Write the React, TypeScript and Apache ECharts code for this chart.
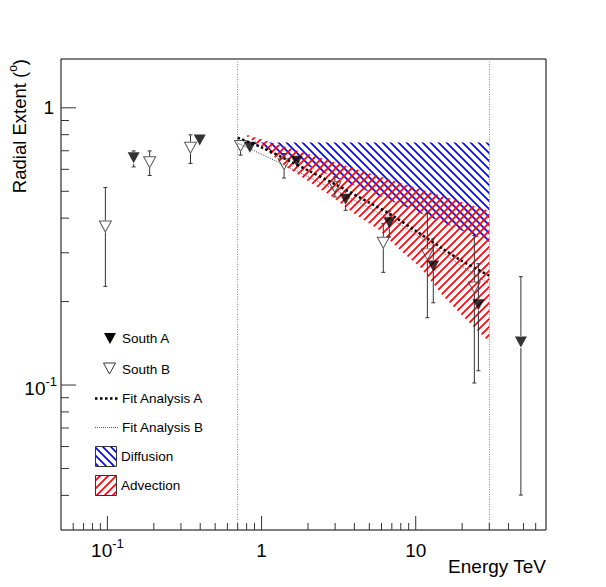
import React, { useEffect, useRef } from 'react';
import * as echarts from 'echarts';

// Axis ranges
const xRange = [0.05, 70];
const yRange = [0.03, 1.5];

// South A (filled down-triangles)
const southA_E = [0.148, 0.397, 0.84, 1.69, 3.51, 6.74, 13.0, 25.5, 48.1];
const southA_R = [0.66, 0.766, 0.721, 0.641, 0.468, 0.385, 0.269, 0.195, 0.143];
const southA_lo = [0.612, 0.75, 0.7, 0.62, 0.427, 0.342, 0.198, 0.1126, 0.0401];
const southA_hi = [0.699, 0.78, 0.74, 0.66, 0.501, 0.424, 0.337, 0.274, 0.246];

// South B (open down-triangles)
const southB_E = [0.097, 0.188, 0.346, 0.731, 1.4, 2.99, 6.16, 11.9, 24.0];
const southB_R = [0.373, 0.636, 0.718, 0.728, 0.626, 0.517, 0.326, 0.296, 0.225];
const southB_lo = [0.227, 0.57, 0.63, 0.675, 0.558, 0.477, 0.255, 0.175, 0.1017];
const southB_hi = [0.516, 0.699, 0.799, 0.74, 0.684, 0.563, 0.382, 0.417, 0.346];

// Fit curves
const fit_E = [0.7, 1, 1.5, 2, 3, 5, 7, 10, 15, 20, 30];
const fitA_R = [0.78, 0.72, 0.645, 0.595, 0.53, 0.455, 0.41, 0.36, 0.31, 0.28, 0.248];
const fitB_R = [0.745, 0.68, 0.61, 0.565, 0.505, 0.435, 0.395, 0.35, 0.3, 0.268, 0.232];

// Diffusion band (blue hatch)
const diff_upper_E = [0.86, 30];
const diff_upper_R = [0.75, 0.75];
const diff_lower_E = [0.86, 30];
const diff_lower_R = [0.75, 0.328];

// Advection band (red hatch)
const adv_upper_E = [0.8, 30];
const adv_upper_R = [0.8, 0.425];
const adv_lower_E = [0.8, 1.0, 1.45, 2, 2.78, 4, 5.86, 8, 10.7, 15, 20, 30];
const adv_lower_R = [0.79, 0.725, 0.612, 0.545, 0.484, 0.415, 0.361, 0.305, 0.266, 0.21, 0.178, 0.143];

// Energy thresholds (dotted vertical lines)
const thresholds = [0.7, 30];

// Tick values
const xMajorTicks = [0.1, 1, 10];
const xMinorTicks = [0.06, 0.07, 0.08, 0.09, 0.2, 0.3, 0.4, 0.5, 0.6, 0.7, 0.8, 0.9, 2, 3, 4, 5, 6, 7, 8, 9, 20, 30, 40, 50, 60];
const yMajorTicks = [0.1, 1];
const yMinorTicks = [0.04, 0.05, 0.06, 0.07, 0.08, 0.09, 0.2, 0.3, 0.4, 0.5, 0.6, 0.7, 0.8, 0.9];

const FONT = 'Liberation Sans';

function makeHatch(color: string, dir: string) {
  const s = 8;
  const c = document.createElement('canvas');
  c.width = s;
  c.height = s;
  const ctx = c.getContext('2d')!;
  ctx.strokeStyle = color;
  ctx.lineWidth = 1.6;
  ctx.beginPath();
  if (dir === '/') {
    ctx.moveTo(-1, s + 1); ctx.lineTo(s + 1, -1);
    ctx.moveTo(-2, 2); ctx.lineTo(2, -2);
    ctx.moveTo(s - 2, s + 2); ctx.lineTo(s + 2, s - 2);
  } else {
    ctx.moveTo(-1, -1); ctx.lineTo(s + 1, s + 1);
    ctx.moveTo(s - 2, -2); ctx.lineTo(s + 2, 2);
    ctx.moveTo(-2, s - 2); ctx.lineTo(2, s + 2);
  }
  ctx.stroke();
  return { image: c, repeat: 'repeat', imageWidth: s, imageHeight: s } as any;
}

function near(v: number, t: number) {
  return Math.abs(v - t) < t * 1e-6;
}

function errorBarItem(params: any, api: any) {
  const x = api.value(0), y = api.value(1), lo = api.value(2), hi = api.value(3);
  const p = api.coord([x, y]);
  const pl = api.coord([x, lo]);
  const ph = api.coord([x, hi]);
  const gap = 6;
  const cap = 2;
  const st = { stroke: '#333', lineWidth: 1 };
  const children: any[] = [];
  if (ph[1] < p[1] - gap) {
    children.push({ type: 'line', shape: { x1: p[0], y1: ph[1], x2: p[0], y2: p[1] - gap }, style: st });
    children.push({ type: 'line', shape: { x1: p[0] - cap, y1: ph[1], x2: p[0] + cap, y2: ph[1] }, style: st });
  }
  if (pl[1] > p[1] + gap) {
    children.push({ type: 'line', shape: { x1: p[0], y1: p[1] + gap, x2: p[0], y2: pl[1] }, style: st });
    children.push({ type: 'line', shape: { x1: p[0] - cap, y1: pl[1], x2: p[0] + cap, y2: pl[1] }, style: st });
  }
  return { type: 'group', children };
}

export default function App() {
  const ref = useRef<HTMLDivElement>(null);
  useEffect(() => {
    const chart = echarts.init(ref.current!, null, { renderer: 'svg' });
    const blueHatch = makeHatch('#0000ff', '\\');
    const redHatch = makeHatch('#ff0000', '/');

    const regions = [
      {
        upper: diff_upper_E.map((e, i) => [e, diff_upper_R[i]]),
        lower: diff_lower_E.map((e, i) => [e, diff_lower_R[i]]),
        fill: blueHatch,
      },
      {
        upper: adv_upper_E.map((e, i) => [e, adv_upper_R[i]]),
        lower: adv_lower_E.map((e, i) => [e, adv_lower_R[i]]),
        fill: redHatch,
      },
    ];

    const labelRich = {
      b: { fontSize: 19, fontFamily: FONT, color: '#000', padding: [6, 0, 0, 0], lineHeight: 20 },
      s: { fontSize: 13, fontFamily: FONT, color: '#000', verticalAlign: 'top', lineHeight: 15 },
    };
    const yLabelRich = {
      b: { fontSize: 19, fontFamily: FONT, color: '#000', padding: [6, 0, 0, 0], lineHeight: 20 },
      b0: { fontSize: 19, fontFamily: FONT, color: '#000', padding: [0, 3, 0, 0], lineHeight: 20 },
      s: { fontSize: 13, fontFamily: FONT, color: '#000', verticalAlign: 'top', lineHeight: 15 },
    };

    const txt = (x: number, y: number, text: string) => ({
      type: 'text', x, y, z: 20,
      style: {
        text, fill: '#000', fontSize: 13.5, fontFamily: FONT,
        align: 'left', verticalAlign: 'middle', textAlign: 'left', textVerticalAlign: 'middle',
      },
    });

    const option: any = {
      animation: false,
      backgroundColor: '#fff',
      grid: { left: 61, top: 59, right: 60, bottom: 57, show: true, borderColor: '#000', borderWidth: 1, backgroundColor: 'transparent' },
      xAxis: {
        type: 'log', logBase: 10, min: xRange[0], max: xRange[1],
        axisLine: { show: false }, axisTick: { show: false }, splitLine: { show: false },
        axisLabel: {
          margin: 7,
          showMinLabel: false, showMaxLabel: false,
          formatter: (v: number) => {
            if (near(v, 0.1)) return '{b|10}{s|-1}';
            if (near(v, 1)) return '{b|1}';
            if (near(v, 10)) return '{b|10}';
            return '';
          },
          rich: labelRich,
        },
      },
      yAxis: {
        type: 'log', logBase: 10, min: yRange[0], max: yRange[1],
        axisLine: { show: false }, axisTick: { show: false }, splitLine: { show: false },
        axisLabel: {
          margin: 4,
          showMinLabel: false, showMaxLabel: false,
          formatter: (v: number) => {
            if (near(v, 0.1)) return '{b|10}{s|-1}';
            if (near(v, 1)) return '{b0|1}';
            return '';
          },
          rich: yLabelRich,
        },
      },
      series: [
        {
          type: 'custom', name: 'regions', z: 1,
          data: regions.map((r) => r.upper[0]),
          renderItem: (params: any, api: any) => {
            const r = regions[params.dataIndex];
            const pts = r.upper.map((p) => api.coord(p)).concat(r.lower.slice().reverse().map((p) => api.coord(p)));
            return { type: 'polygon', shape: { points: pts }, style: { fill: r.fill, stroke: null } };
          },
          markLine: {
            silent: true, symbol: 'none', label: { show: false },
            lineStyle: { color: '#ff5a5a', type: [1, 1.5], width: 1 },
            data: thresholds.map((t) => ({ xAxis: t })),
          },
        },
        {
          type: 'line', name: 'Fit Analysis B', z: 3, showSymbol: false, smooth: 0.3,
          data: fit_E.map((e, i) => [e, fitB_R[i]]),
          lineStyle: { color: '#555', width: 1, type: [1, 1] },
        },
        {
          type: 'line', name: 'Fit Analysis A', z: 3, showSymbol: false, smooth: 0.3,
          data: fit_E.map((e, i) => [e, fitA_R[i]]),
          lineStyle: { color: '#000', width: 2.5, type: [2.5, 2.5] },
        },
        {
          type: 'custom', name: 'errA', z: 4,
          data: southA_E.map((e, i) => [e, southA_R[i], southA_lo[i], southA_hi[i]]),
          renderItem: errorBarItem,
        },
        {
          type: 'custom', name: 'errB', z: 4,
          data: southB_E.map((e, i) => [e, southB_R[i], southB_lo[i], southB_hi[i]]),
          renderItem: errorBarItem,
        },
        {
          type: 'scatter', name: 'South B', z: 5,
          symbol: 'triangle', symbolRotate: 180, symbolSize: [12, 11],
          itemStyle: { color: 'rgba(255,255,255,0)', borderColor: '#333', borderWidth: 1 },
          data: southB_E.map((e, i) => [e, southB_R[i]]),
        },
        {
          type: 'scatter', name: 'South A', z: 5,
          symbol: 'triangle', symbolRotate: 180, symbolSize: [12, 11],
          itemStyle: { color: '#000' },
          data: southA_E.map((e, i) => [e, southA_R[i]]),
        },
        {
          type: 'custom', name: 'ticks', z: 6,
          data: [[xRange[0], yRange[0]]],
          renderItem: (params: any, api: any) => {
            const st = { stroke: '#333', lineWidth: 1 };
            const ch: any[] = [];
            const addX = (v: number, len: number) => {
              const p = api.coord([v, yRange[0]]);
              ch.push({ type: 'line', shape: { x1: p[0], y1: p[1], x2: p[0], y2: p[1] - len }, style: st });
            };
            const addY = (v: number, len: number) => {
              const p = api.coord([xRange[0], v]);
              ch.push({ type: 'line', shape: { x1: p[0], y1: p[1], x2: p[0] + len, y2: p[1] }, style: st });
            };
            xMajorTicks.forEach((v) => addX(v, 14));
            xMinorTicks.forEach((v) => addX(v, 7));
            yMajorTicks.forEach((v) => addY(v, 15));
            yMinorTicks.forEach((v) => addY(v, 8));
            return { type: 'group', children: ch };
          },
        },
      ],
      graphic: [
        {
          type: 'text', x: 546, y: 566, z: 20,
          style: {
            text: 'Energy TeV', fill: '#000', fontSize: 19, fontFamily: FONT,
            align: 'right', verticalAlign: 'middle', textAlign: 'right', textVerticalAlign: 'middle',
          },
        },
        {
          type: 'text', x: 16, y: 59, rotation: Math.PI / 2, z: 20,
          style: {
            text: '{b|Radial Extent (}{s|o}{b|)}',
            rich: {
              b: { fontSize: 18.5, fontFamily: FONT, fill: '#000', padding: [6, 0, 0, 0], lineHeight: 19 },
              s: { fontSize: 12, fontFamily: FONT, fill: '#000', verticalAlign: 'top', lineHeight: 13 },
            },
            align: 'right', verticalAlign: 'middle', textAlign: 'right', textVerticalAlign: 'middle',
          },
        },
        // Legend
        { type: 'polygon', z: 20, shape: { points: [[104, 333], [116, 333], [110, 344]] }, style: { fill: '#000' } },
        txt(122, 338.5, 'South A'),
        { type: 'polygon', z: 20, shape: { points: [[103.5, 363], [115.5, 363], [109.5, 374]] }, style: { fill: 'none', stroke: '#333', lineWidth: 1 } },
        txt(122, 369, 'South B'),
        { type: 'line', z: 20, shape: { x1: 95, y1: 398.5, x2: 119, y2: 398.5 }, style: { stroke: '#000', lineWidth: 2.5, lineDash: [2.5, 2.5] } },
        txt(122, 398.5, 'Fit Analysis A'),
        { type: 'line', z: 20, shape: { x1: 95, y1: 427.5, x2: 119, y2: 427.5 }, style: { stroke: '#555', lineWidth: 1, lineDash: [1, 1] } },
        txt(122, 427.5, 'Fit Analysis B'),
        { type: 'rect', z: 20, shape: { x: 95.5, y: 446.5, width: 21, height: 20 }, style: { fill: blueHatch, stroke: '#333', lineWidth: 1 } },
        txt(121, 456.5, 'Diffusion'),
        { type: 'rect', z: 20, shape: { x: 95.5, y: 475.5, width: 21, height: 20 }, style: { fill: redHatch, stroke: '#333', lineWidth: 1 } },
        txt(121, 485.5, 'Advection'),
      ],
    };
    chart.setOption(option);
    return () => chart.dispose();
  }, []);
  return (
    <div
      ref={ref}
      style={{ position: 'fixed', left: 0, top: 0, width: 606, height: 587, background: '#fff' }}
    />
  );
}
